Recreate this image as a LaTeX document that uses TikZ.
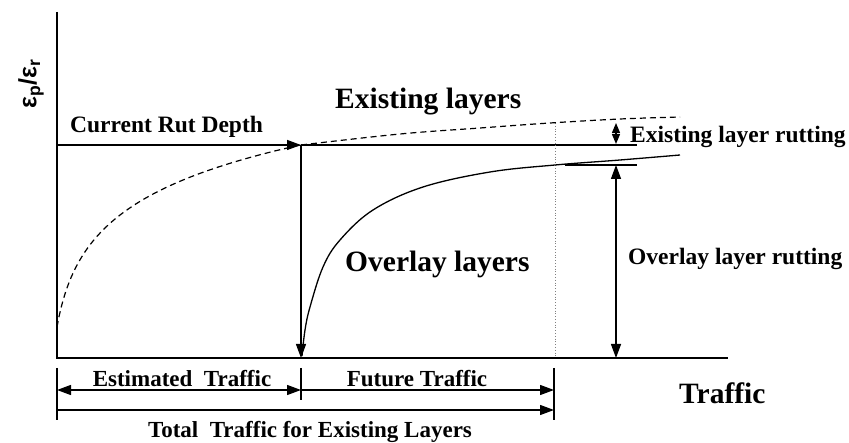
\documentclass[tikz,border=0pt]{standalone}
\usepackage{fontspec}
\setmainfont{Liberation Serif}
\newfontfamily\axisfont{Liberation Sans}
\usetikzlibrary{arrows.meta}
\tikzset{
  ln/.style={line width=1.3pt, black},
  ax/.style={line width=1.5pt, black},
  tip/.style={-{Triangle[length=14pt,width=10pt]}},
  dtip/.style={{Triangle[length=14pt,width=10pt]}-{Triangle[length=14pt,width=10pt]}},
  smalldtip/.style={{Triangle[length=10pt,width=8pt]}-{Triangle[length=10pt,width=8pt]}},
  big/.style={font=\bfseries\fontsize{29.5}{32}\selectfont, inner sep=0pt, anchor=base west},
  mid/.style={font=\bfseries\fontsize{23.5}{26}\selectfont, inner sep=0pt, anchor=base west},
  dimlbl/.style={font=\bfseries\fontsize{23}{26}\selectfont, inner sep=0pt, anchor=base},
  dsh/.style={line width=1.2pt, dash pattern=on 6pt off 4pt},
}
\begin{document}
\begin{tikzpicture}[x=1pt,y=-1pt]
\useasboundingbox (0,0) rectangle (849,443);
% key points
\coordinate (O) at (57,358);
\coordinate (Ytop) at (57,12);
\coordinate (Xend) at (728,358);
\coordinate (R0) at (57,145);
\coordinate (R1) at (301,145);
\coordinate (R2) at (637,145);
\coordinate (B1) at (301,358);
\coordinate (D0) at (555,123);
\coordinate (D1) at (555,358);
\coordinate (E0) at (616,123);
\coordinate (E1) at (616,144);
\coordinate (K0) at (565,165);
\coordinate (K1) at (637,165);
\coordinate (V0) at (616,165);
\coordinate (V1) at (616,358);
% bottom dimension points
\coordinate (T0a) at (57,368);  \coordinate (T0b) at (57,420);
\coordinate (T1a) at (301,368); \coordinate (T1b) at (301,400);
\coordinate (T2a) at (554,368); \coordinate (T2b) at (554,420);
\coordinate (A0) at (57,390);  \coordinate (A1) at (301,390); \coordinate (A2) at (554,390);
\coordinate (C0) at (57,410);  \coordinate (C2) at (554,410);

% axes
\draw[ax] (Ytop) -- (O) -- (Xend);
% current rut depth line
\draw[ln, tip] (R0) -- (R1);
\draw[ln] (R1) -- (R2);
\draw[ln, tip] (R1) -- (B1);
% dotted vertical
\draw[line width=0.8pt, gray, dotted] (D0) -- (D1);
% existing layers dashed curve
\draw[dsh] plot[domain=57:301, samples=120] (\x, {456.6-56.3*ln(\x-47)});
\draw[dsh] plot[smooth, tension=0.6] coordinates {(301,145) (400,134) (480,128) (550,123) (620,119) (680,117)};
% overlay solid curve
\draw[ln] plot[smooth, tension=0.6] coordinates {(302,356) (305,330) (310,307) (323,267) (340,240) (373,210) (423,187) (490,172) (555,165) (620,160) (680,155)};
% existing layer rutting
\draw[ln, smalldtip] (E0) -- (E1);
% overlay layer rutting
\draw[ln] (K0) -- (K1);
\draw[ln, dtip] (V0) -- (V1);
% bottom dimensions
\draw[ln] (T0a) -- (T0b);
\draw[ln] (T1a) -- (T1b);
\draw[ln] (T2a) -- (T2b);
\draw[ln, dtip] (A0) -- (A1);
\draw[ln, tip] (A1) -- (A2);
\draw[ln, tip] (C0) -- (C2);

% labels
\node[rotate=90, font=\axisfont\bfseries\fontsize{25}{27}\selectfont, inner sep=0pt] (ylab) at (31,84) {ε\textsubscript{p}/ε\textsubscript{r}};
\node[mid] (crd) at (70,133) {Current Rut Depth};
\node[big] (exl) at (335,109) {Existing layers};
\node[big] (ovl) at (345,272) {Overlay layers};
\node[mid] (elr) at (630,143) {Existing layer rutting};
\node[mid] (olr) at (628,265) {Overlay layer rutting};
\node[big] (trf) at (679,404) {Traffic};
\node[dimlbl] (est) at (182,387) {Estimated\ \ Traffic};
\node[dimlbl] (fut) at (417,387) {Future Traffic};
\node[dimlbl] (tot) at (310,438) {Total\ \ Traffic for Existing Layers};
\end{tikzpicture}
\end{document}
